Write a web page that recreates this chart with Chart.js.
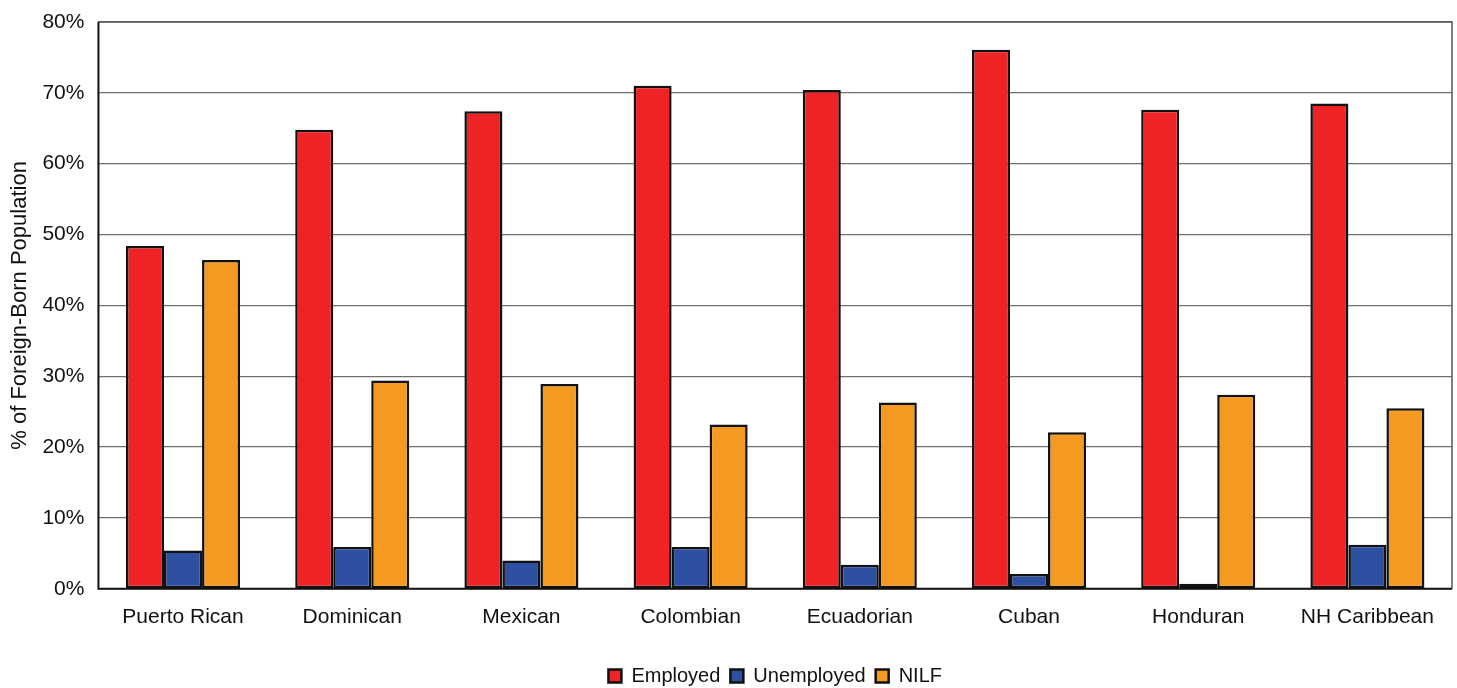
<!DOCTYPE html>
<html>
<head>
<meta charset="utf-8">
<script src="https://cdn.jsdelivr.net/npm/chart.js@4.4.1/dist/chart.umd.min.js"></script>
<style>
  html, body { margin: 0; padding: 0; background: #fff; }
  #wrap { width: 1457px; height: 688px; position: relative; }
</style>
</head>
<body>
<div id="wrap"><canvas id="c"></canvas></div>
<script>
// Labour force status by origin group (% of foreign-born population)
const categories = ['Puerto Rican', 'Dominican', 'Mexican', 'Colombian', 'Ecuadorian', 'Cuban', 'Honduran', 'NH Caribbean'];
const employed   = [48.4, 64.8, 67.4, 71.0, 70.4, 76.1, 67.6, 68.5];
const unemployed = [5.4, 5.9, 4.0, 5.9, 3.4, 2.1, 0.7, 6.2];
const nilf       = [46.4, 29.4, 28.9, 23.2, 26.3, 22.1, 27.4, 25.5];
const yTicks     = [0, 10, 20, 30, 40, 50, 60, 70, 80];

const FONT = "'Liberation Sans', Arial, sans-serif";

// Outline the plot area: grey top/right, dark left/bottom axis lines
const frame = {
  id: 'frame',
  afterDraw(chart) {
    const { ctx, chartArea: a } = chart;
    ctx.save();
    ctx.strokeStyle = '#555';
    ctx.lineWidth = 1.5;
    ctx.beginPath();
    ctx.moveTo(a.left, a.top);
    ctx.lineTo(a.right, a.top);
    ctx.lineTo(a.right, a.bottom);
    ctx.stroke();
    ctx.strokeStyle = '#111';
    ctx.lineWidth = 2;
    ctx.beginPath();
    ctx.moveTo(a.left, a.top);
    ctx.lineTo(a.left, a.bottom);
    ctx.lineTo(a.right, a.bottom);
    ctx.stroke();
    ctx.restore();
  }
};

const common = { borderColor: '#111', borderWidth: 2.5, borderSkipped: false, categoryPercentage: 0.674, barPercentage: 1.0 };

new Chart(document.getElementById('c'), {
  type: 'bar',
  data: {
    labels: categories,
    datasets: [
      { label: 'Employed', data: employed, backgroundColor: '#EE2326', ...common },
      { label: 'Unemployed', data: unemployed, backgroundColor: '#2E50A1', ...common },
      { label: 'NILF', data: nilf, backgroundColor: '#F49A20', ...common }
    ]
  },
  options: {
    responsive: true,
    maintainAspectRatio: false,
    animation: false,
    layout: { padding: { left: 0, right: 5, top: 22, bottom: -8 } },
    plugins: {
      tooltip: { enabled: false },
      legend: {
        position: 'bottom',
        fullSize: false,
        labels: {
          font: { family: FONT, size: 20 },
          color: '#111',
          boxWidth: 13,
          boxHeight: 13,
          padding: 10,
          useBorderRadius: false
        }
      }
    },
    scales: {
      x: {
        grid: { display: false, drawTicks: false },
        border: { display: false },
        ticks: { font: { family: FONT, size: 21 }, color: '#111', padding: 16 },
        afterFit(axis) { axis.height += 10; }
      },
      y: {
        min: 0,
        max: 80,
        afterBuildTicks(axis) { axis.ticks = yTicks.map(v => ({ value: v })); },
        afterFit(axis) { axis.width -= 5; axis.paddingTop = 0; axis.paddingBottom = 0; },
        grid: { color: '#707070', lineWidth: 1.3, drawTicks: false },
        border: { display: false },
        ticks: {
          font: { family: FONT, size: 21 },
          color: '#111',
          padding: 14,
          callback: v => v + '%'
        },
        title: {
          display: true,
          text: '% of Foreign-Born Population',
          font: { family: FONT, size: 22 },
          color: '#111',
          padding: { top: 7, bottom: 0 }
        }
      }
    }
  },
  plugins: [frame]
});
</script>
</body>
</html>
